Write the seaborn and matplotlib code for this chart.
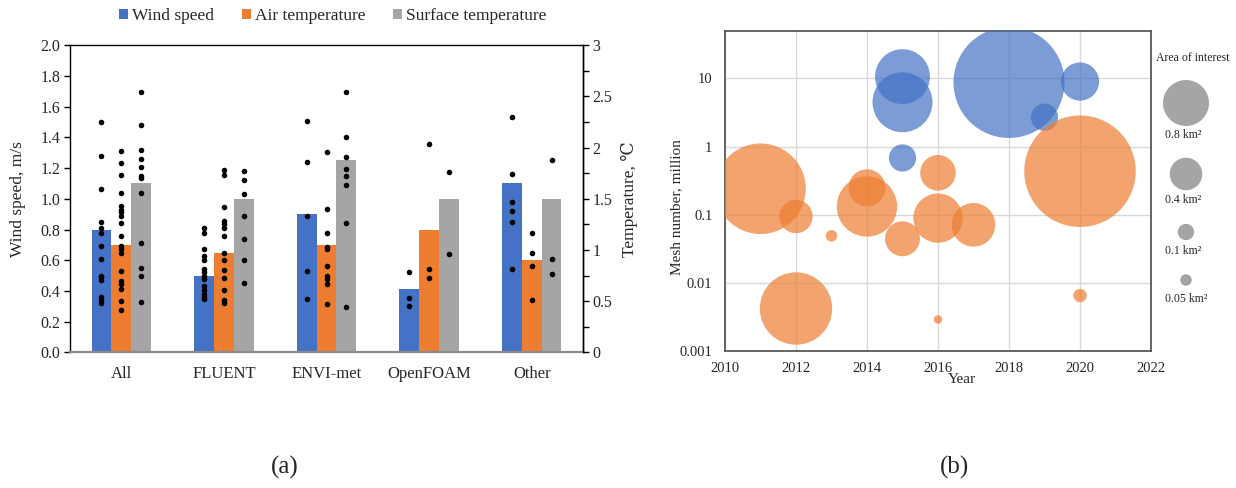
import numpy as np
import pandas as pd
import matplotlib
matplotlib.use("Agg")
import matplotlib.pyplot as plt
from matplotlib.patches import Patch
from matplotlib.ticker import MultipleLocator, FormatStrFormatter, FixedLocator, NullLocator
import seaborn as sns

sns.set_theme(style="white")
plt.rcParams["font.family"] = ["Liberation Serif", "DejaVu Serif"]

# ---------------- (a) validation errors by solver ----------------
categories = ["All", "FLUENT", "ENVI-met", "OpenFOAM", "Other"]
series = ["Wind speed", "Air temperature", "Surface temperature"]
bar_colors = ["#4472C4", "#ED7D31", "#A5A5A5"]

wind_mean = [0.80, 0.50, 0.90, 0.41, 1.10]          # m/s
air_mean = [1.05, 0.975, 1.05, 1.20, 0.90]          # degC
surface_mean = [1.65, 1.50, 1.875, 1.50, 1.50]      # degC

wind_points = {
    "All": [1.50, 1.28, 1.065, 0.85, 0.81, 0.78, 0.69, 0.61, 0.50, 0.49, 0.47, 0.36, 0.34, 0.32],
    "FLUENT": [0.81, 0.78, 0.67, 0.63, 0.60, 0.54, 0.52, 0.50, 0.475, 0.43, 0.405, 0.38, 0.36, 0.345],
    "ENVI-met": [1.51, 1.24, 0.89, 0.53, 0.35],
    "OpenFOAM": [0.525, 0.355, 0.30],
    "Other": [1.53, 1.16, 0.98, 0.92, 0.85, 0.54],
}
air_points = {
    "All": [1.97, 1.85, 1.73, 1.56, 1.43, 1.39, 1.37, 1.33, 1.26, 1.14, 1.04, 1.01, 0.97,
            0.79, 0.70, 0.67, 0.62, 0.50, 0.41],
    "FLUENT": [1.78, 1.73, 1.42, 1.28, 1.25, 1.21, 1.14, 0.97, 0.90, 0.80, 0.73, 0.61, 0.51, 0.48],
    "ENVI-met": [1.96, 1.40, 1.17, 1.03, 1.01, 0.84, 0.75, 0.72, 0.67, 0.47],
    "OpenFOAM": [2.04, 0.81, 0.73],
    "Other": [1.17, 0.97, 0.84, 0.51],
}
surface_points = {
    "All": [2.54, 2.22, 1.98, 1.89, 1.81, 1.72, 1.70, 1.56, 1.07, 0.82, 0.75, 0.49],
    "FLUENT": [1.77, 1.68, 1.55, 1.33, 1.11, 0.90, 0.68],
    "ENVI-met": [2.54, 2.10, 1.91, 1.79, 1.72, 1.63, 1.26, 0.44],
    "OpenFOAM": [1.76, 0.96],
    "Other": [1.88, 0.91, 0.77],
}

WIND_MAX = 2.0
TEMP_MAX = 3.0
temp_to_wind = WIND_MAX / TEMP_MAX

# ---------------- (b) mesh size vs publication year ----------------
year_a = [2015, 2015, 2015, 2018, 2019, 2020]
mesh_a = [10.6, 4.46, 0.68, 8.7, 2.69, 8.97]           # million cells
area_a = [1.14, 1.36, 0.28, 4.66, 0.28, 0.55]           # km2

year_b = [2011, 2012, 2012, 2013, 2014, 2014, 2015, 2016, 2016, 2016, 2017, 2020, 2020]
mesh_b = [0.24, 0.094, 0.0042, 0.049, 0.248, 0.132, 0.0443, 0.411, 0.089, 0.0029, 0.071, 0.434, 0.0065]
area_b = [3.1, 0.42, 1.98, 0.05, 0.52, 1.38, 0.46, 0.48, 0.92, 0.027, 0.72, 4.7, 0.068]

legend_areas = [0.8, 0.4, 0.1, 0.05]
legend_labels = ["0.8 km²", "0.4 km²", "0.1 km²", "0.05 km²"]

BUBBLE_PT2_PER_KM2 = 1371.0

fig = plt.figure(figsize=(12.36, 4.88), dpi=100)
W, H = 1236.0, 488.0

def px_axes(x0, y0, x1, y1):
    return fig.add_axes([x0 / W, 1 - y1 / H, (x1 - x0) / W, (y1 - y0) / H])

# ---------- left panel ----------
rows = []
for cat, w, a, s in zip(categories, wind_mean, air_mean, surface_mean):
    rows.append((cat, series[0], w))
    rows.append((cat, series[1], a * temp_to_wind))
    rows.append((cat, series[2], s * temp_to_wind))
bars = pd.DataFrame(rows, columns=["category", "series", "value"])

ax = px_axes(70, 45.3, 583, 352.3)
sns.barplot(data=bars, x="category", y="value", hue="series", order=categories,
            hue_order=series, palette=bar_colors, saturation=1, width=0.58,
            errorbar=None, linewidth=0, legend=False, ax=ax)

for container, pts, factor in zip(ax.containers,
                                  [wind_points, air_points, surface_points],
                                  [1.0, temp_to_wind, temp_to_wind]):
    ordered = sorted(container, key=lambda b: b.get_x())
    for bar, cat in zip(ordered, categories):
        xc = bar.get_x() + bar.get_width() / 2
        vals = np.asarray(pts[cat]) * factor
        ax.scatter(np.full(len(vals), xc), vals, s=16, color="black",
                   linewidths=0, zorder=4)

ax.set_xlim(-0.5, len(categories) - 0.5)
ax.set_ylim(0, WIND_MAX)
ax.yaxis.set_major_locator(MultipleLocator(0.2))
ax.yaxis.set_major_formatter(FormatStrFormatter("%.1f"))
ax.tick_params(axis="y", direction="out", length=4, width=1, color="black",
               labelsize=11.5, pad=3, left=True)
ax.tick_params(axis="x", length=0, labelsize=12, pad=10)
ax.set_xlabel("")
ax.set_ylabel("Wind speed, m/s", fontsize=12.5)
ax.yaxis.set_label_coords(-0.085, 0.5)
for side in ["left", "top", "right"]:
    ax.spines[side].set_color("black")
    ax.spines[side].set_linewidth(1.0)
ax.spines["bottom"].set_color("#8C8C8C")
ax.spines["bottom"].set_linewidth(1.6)

ax2 = ax.twinx()
ax2.set_ylim(0, TEMP_MAX)
ax2.yaxis.set_major_locator(MultipleLocator(0.5))
ax2.yaxis.set_minor_locator(MultipleLocator(0.25))
ax2.yaxis.set_major_formatter(FormatStrFormatter("%g"))
ax2.tick_params(axis="y", which="both", direction="out", length=4, width=1,
                color="black", labelsize=11.5, pad=3, right=True)
ax2.set_ylabel("Temperature, ℃", fontsize=12.5)
ax2.yaxis.set_label_coords(1.075, 0.5)
for side in ["left", "top", "bottom"]:
    ax2.spines[side].set_visible(False)
ax2.spines["right"].set_color("black")
ax2.spines["right"].set_linewidth(1.0)

handles = [Patch(facecolor=c, edgecolor="none") for c in bar_colors]
fig.legend(handles, series, loc="center", bbox_to_anchor=(333 / W, 1 - 16 / H),
           ncol=3, frameon=False, fontsize=12.5, handlelength=0.5, handleheight=0.5,
           handletextpad=0.25, columnspacing=1.6)

# ---------- right panel ----------
bubbles = pd.DataFrame({
    "year": year_a + year_b,
    "mesh": mesh_a + mesh_b,
    "area": area_a + area_b,
    "group": ["A"] * len(year_a) + ["B"] * len(year_b),
})
amax = bubbles["area"].max()

axb = px_axes(725, 30.7, 1151, 351)
axb.grid(True, color="#D9D9D9", linewidth=1.0)
axb.set_axisbelow(True)
sns.scatterplot(data=bubbles, x="year", y="mesh", hue="group", size="area",
                sizes=(0, BUBBLE_PT2_PER_KM2 * amax), size_norm=(0, amax),
                palette={"A": "#4472C4", "B": "#ED7D31"}, alpha=0.7,
                linewidth=0, legend=False, ax=axb, zorder=3)
axb.set_yscale("log")
axb.set_xlim(2010, 2022)
axb.set_ylim(0.001, 50)
axb.xaxis.set_major_locator(MultipleLocator(2))
axb.yaxis.set_major_locator(FixedLocator([0.001, 0.01, 0.1, 1, 10]))
axb.yaxis.set_minor_locator(NullLocator())
axb.set_yticklabels(["0.001", "0.01", "0.1", "1", "10"])
axb.tick_params(axis="x", length=0, labelsize=10.5, pad=8)
axb.tick_params(axis="y", length=0, labelsize=10.5, pad=9)
for side in axb.spines:
    axb.spines[side].set_color("#595959")
    axb.spines[side].set_linewidth(1.3)
axb.set_xlabel("Year", fontsize=11)
axb.xaxis.set_label_coords(0.556, -0.07)
axb.set_ylabel("Mesh number, million", fontsize=11)
axb.yaxis.set_label_coords(-0.098, 0.45)

# bubble-size key
axk = px_axes(1150, 0, 1236, 488)
axk.set_xlim(1150, 1236)
axk.set_ylim(488, 0)
axk.axis("off")
axk.text(1193, 58, "Area of interest", ha="center", va="center", fontsize=8.5)
key_circle_y = [103, 174, 232, 280]
key_label_y = [135, 200, 251, 299]
axk.scatter([1186] * len(legend_areas), key_circle_y,
            s=[BUBBLE_PT2_PER_KM2 * a for a in legend_areas],
            color="#A5A5A5", linewidths=0, clip_on=False)
for ly, lab in zip(key_label_y, legend_labels):
    axk.text(1165, ly, lab, ha="left", va="center", fontsize=8.5)

# panel captions
fig.text(285 / W, 1 - 467 / H, "(a)", ha="center", va="center", fontsize=18)
fig.text(955 / W, 1 - 467 / H, "(b)", ha="center", va="center", fontsize=18)

fig.savefig("out.png", dpi=100)
